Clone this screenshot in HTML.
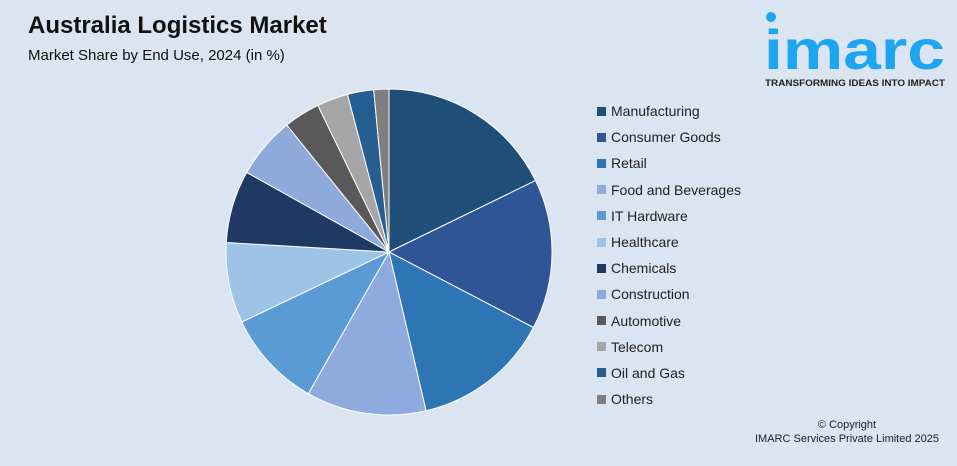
<!DOCTYPE html>
<html><head><meta charset="utf-8"><style>
body{margin:0;width:957px;height:466px;background:#dbe4f1;font-family:"Liberation Sans",sans-serif;position:relative;overflow:hidden}
.t{position:absolute;left:28px;top:12px;font-size:24px;font-weight:bold;color:#111}
.s{position:absolute;left:28px;top:47px;font-size:15px;color:#111}
.leg{position:absolute;left:597px;top:98px;font-size:14px;color:#222}
.li{height:26.2px;display:flex;align-items:center}
.sw{width:9px;height:9px;margin-right:5px}
.logo{position:absolute;left:765px;top:8px}
.copy{position:absolute;right:18px;top:418px;font-size:11px;color:#222;text-align:center;line-height:14px}
</style></head><body>
<div class="t">Australia Logistics Market</div>
<div class="s">Market Share by End Use, 2024 (in %)</div>
<div class="logo">
<svg width="185" height="85"><circle cx="6" cy="9" r="5" fill="#1ea5f0"/>
<text x="-1" y="61" font-family="Liberation Sans" font-weight="bold" font-size="56" fill="#1ea5f0" textLength="181" lengthAdjust="spacingAndGlyphs">imarc</text>
<text x="0" y="78" font-family="Liberation Sans" font-weight="bold" font-size="9.5" fill="#222" textLength="180" lengthAdjust="spacingAndGlyphs">TRANSFORMING IDEAS INTO IMPACT</text></svg></div>
<svg id="pie" width="957" height="466" style="position:absolute;left:0;top:0"></svg>
<div class="leg" id="leg"></div>
<div class="copy">© Copyright<br>IMARC Services Private Limited 2025</div>
<script>
const categories=["Manufacturing","Consumer Goods","Retail","Food and Beverages","IT Hardware","Healthcare","Chemicals","Construction","Automotive","Telecom","Oil and Gas","Others"];
const values=[17.8,14.9,13.7,11.9,9.7,8.0,7.2,6.1,3.6,3.1,2.6,1.5];
const colors=["#1f4e79","#2f5597","#2e75b6","#8faadc","#5b9bd5","#9dc3e6","#203864","#8eaadb","#595959","#a6a6a6","#255e91","#7f7f7f"];
const cx=389,cy=252,r=163,NS="http://www.w3.org/2000/svg";
const svg=document.getElementById('pie');
const total=values.reduce((a,b)=>a+b,0);
let a0=0;
values.forEach((v,i)=>{
 const a1=a0+v/total*2*Math.PI;
 const p=a=>[cx+r*Math.sin(a),cy-r*Math.cos(a)];
 const [x0,y0]=p(a0),[x1,y1]=p(a1);
 const path=document.createElementNS(NS,'path');
 path.setAttribute('d',`M${cx},${cy}L${x0},${y0}A${r},${r} 0 ${a1-a0>Math.PI?1:0} 1 ${x1},${y1}Z`);
 path.setAttribute('fill',colors[i]);
 path.setAttribute('stroke','#fff');path.setAttribute('stroke-width','1');
 
 
 svg.appendChild(path);a0=a1;
});
const leg=document.getElementById('leg');
categories.forEach((c,i)=>{
 const d=document.createElement('div');d.className='li';
 
 
 d.innerHTML=`<span class="sw" style="background:${colors[i]}"></span>${c}`;
 leg.appendChild(d);
});
</script>
</body></html>
